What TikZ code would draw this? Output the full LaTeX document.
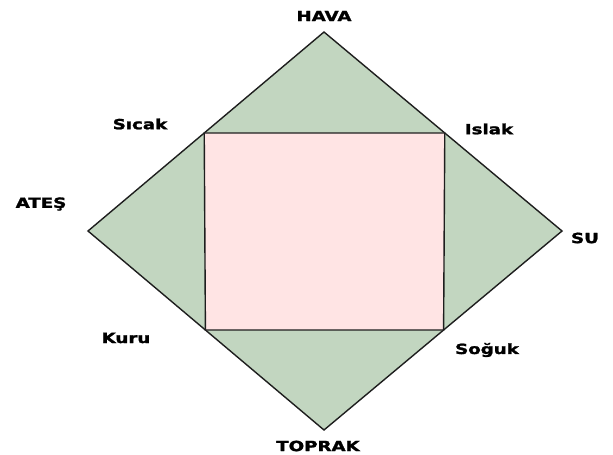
\documentclass[tikz,border=0pt]{standalone}
\usepackage{fontspec}
\setmainfont{DejaVu Sans}
\newfontfamily\heavyfont{DejaVu Sans Bold}[FakeBold=1.6]
\usetikzlibrary{calc}
\definecolor{dgreen}{RGB}{194,214,192}
\definecolor{dpink}{RGB}{255,228,228}
\definecolor{edge}{RGB}{30,30,30}
\tikzset{
  lbl/.style={inner sep=0pt, font=\fontsize{14}{15}\heavyfont},
  outline/.style={draw=edge, line width=1.4pt, line join=miter}
}
\newcommand{\wide}[1]{\scalebox{1.3}[1]{#1}}
\begin{document}
\begin{tikzpicture}[x=1pt,y=-1pt]
\useasboundingbox (0,0) rectangle (613,455);
\coordinate (T) at (324,32);
\coordinate (L) at (88,231);
\coordinate (R) at (562,231);
\coordinate (B) at (324,430);
\coordinate (tl) at ($(T)!0.5075!(L)$);
\coordinate (tr) at ($(T)!0.5075!(R)$);
\coordinate (bl) at ($(B)!0.5025!(L)$);
\coordinate (br) at ($(B)!0.5025!(R)$);
\path[outline, fill=dgreen] (T) -- (R) -- (B) -- (L) -- cycle;
\path[outline, fill=dpink] (tl) -- (tr) -- (br) -- (bl) -- cycle;
\node[lbl] (hava) at (324,16) {\wide{HAVA}};
\node[lbl] (sicak) at (140,124) {\wide{Sıcak}};
\node[lbl] (islak) at (489,129) {\wide{Islak}};
\node[lbl] (ates) at (41,204) {\wide{ATEŞ}};
\node[lbl] (su) at (585,238) {\wide{SU}};
\node[lbl] (kuru) at (126,338) {\wide{Kuru}};
\node[lbl] (soguk) at (487,350) {\wide{Soğuk}};
\node[lbl] (toprak) at (318,446) {\wide{TOPRAK}};
\end{tikzpicture}
\end{document}
